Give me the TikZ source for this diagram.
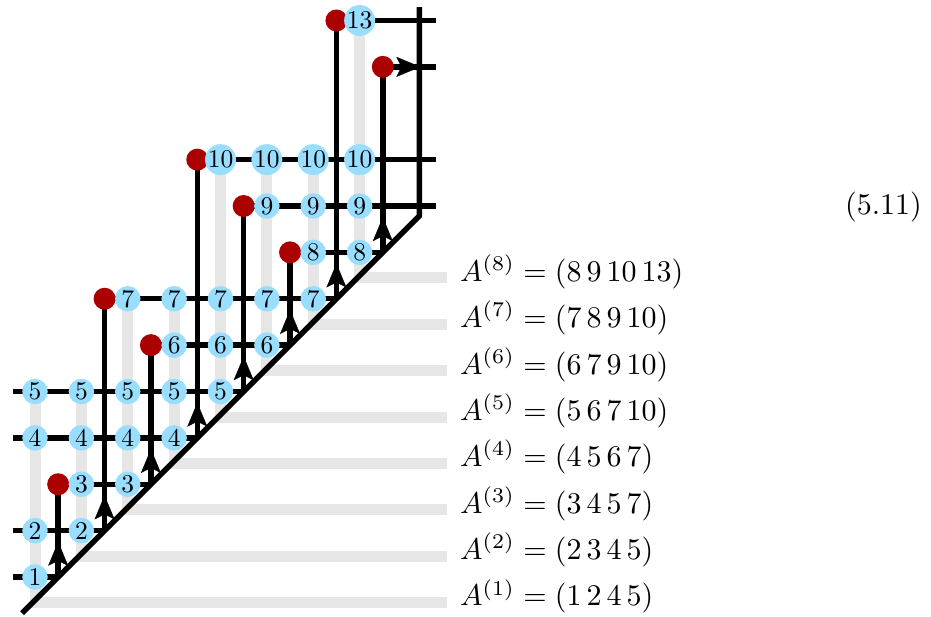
\documentclass[tikz,border=0pt]{standalone}
\usetikzlibrary{arrows.meta}
\definecolor{cblue}{HTML}{99DDFF}
\definecolor{cred}{HTML}{AA0000}
\definecolor{cgray}{HTML}{E6E6E6}
\newcommand{\mybigtxt}[1]{\scalebox{3.0}{#1}}
\newcommand{\mynumtxt}[1]{\scalebox{2.55}{#1}}
\begin{document}
\begin{tikzpicture}[x=46.375pt,y=46.375pt,
  blk/.style={line width=5.5pt, black},
  gbar/.style={line width=11pt, cgray},
  num/.style={circle, fill=cblue, minimum size=25.5pt, inner sep=0pt},
  reddot/.style={circle, fill=cred, minimum size=22pt, inner sep=0pt},
  upar/.style={blk, -{Stealth[length=24pt 0 0,width=20pt 0 0,inset=5pt 0 0,line width=0.3pt]}},
  lbl/.style={anchor=base west, inner sep=0pt}]
\useasboundingbox (0.24528,0.15903) rectangle (20.3208,13.4420);
% gray bars
\foreach \c/\t in {1/5,2/5,3/7,4/7,5/10,6/10,7/10,8/13}
  \draw[gbar] (\c,\t) -- (\c,{\c-0.55}) -- (9.88,{\c-0.55});
% coordinates
\foreach \j in {1,...,8} {
  \coordinate (D\j) at ({\j+0.5},\j);
  \coordinate (T\j) at ({\j+0.5},{\j+0.76});
}
\foreach \r in {1,2,4,5} \coordinate (S\r) at (0.52,\r);
\foreach \r in {9,10,12,13} \coordinate (E\r) at (9.65,\r);
\coordinate (G0) at (0.72,0.22);
\coordinate (G1) at (9.29,8.79);
\coordinate (G2) at (9.29,13.29);
\coordinate (T12) at (9.31,12);
% red dots (positions)
\foreach \j/\t in {1/3,2/7,3/6,4/10,5/9,6/8,7/13,8/12}
  \coordinate (R\j) at ({\j+0.5},\t);
% horizontal lines
\draw[blk] (S1) -- (D1);
\draw[blk] (S2) -- (D2);
\draw[blk] (R1) -- (D3);
\draw[blk] (S4) -- (D4);
\draw[blk] (S5) -- (D5);
\draw[blk] (R3) -- (D6);
\draw[blk] (R2) -- (D7);
\draw[blk] (R6) -- (D8);
\draw[blk] (R5) -- (E9);
\draw[blk] (R4) -- (E10);
\draw[blk] (R8) -- (E12);
\draw[blk] (R7) -- (E13);
% vertical lines
\foreach \j in {1,...,8} \draw[blk] (D\j) -- (R\j);
% diagonal and right side
\draw[blk] (G0) -- (G1) -- (G2);
% arrows
\foreach \j in {1,...,8} \draw[upar] (D\j) -- (T\j);
\draw[upar] (R8) -- (T12);
% red dots
\foreach \j in {1,...,8} \node[reddot] (RD\j) at (R\j) {};
% blue circles
\foreach \c/\rows in {1/{1,2,4,5},2/{2,3,4,5},3/{3,4,5,7},4/{4,5,6,7},5/{5,6,7,10},6/{6,7,9,10},7/{7,8,9,10},8/{8,9,10,13}}
  \foreach \r in \rows \node[num] (b\c-\r) at (\c,\r) {\mynumtxt{\r}};
% labels
\node[lbl] (L1) at (10.165,0.375) {\mybigtxt{$A^{(1)} = (1\,2\,4\,5)$}};
\node[lbl] (L2) at (10.165,1.375) {\mybigtxt{$A^{(2)} = (2\,3\,4\,5)$}};
\node[lbl] (L3) at (10.165,2.375) {\mybigtxt{$A^{(3)} = (3\,4\,5\,7)$}};
\node[lbl] (L4) at (10.165,3.375) {\mybigtxt{$A^{(4)} = (4\,5\,6\,7)$}};
\node[lbl] (L5) at (10.165,4.375) {\mybigtxt{$A^{(5)} = (5\,6\,7\,10)$}};
\node[lbl] (L6) at (10.165,5.375) {\mybigtxt{$A^{(6)} = (6\,7\,9\,10)$}};
\node[lbl] (L7) at (10.165,6.375) {\mybigtxt{$A^{(7)} = (7\,8\,9\,10)$}};
\node[lbl] (L8) at (10.165,7.375) {\mybigtxt{$A^{(8)} = (8\,9\,10\,13)$}};
\node[anchor=base east, inner sep=0pt] (eq) at (20.127,8.817) {\mybigtxt{(5.11)}};
\end{tikzpicture}
\end{document}
